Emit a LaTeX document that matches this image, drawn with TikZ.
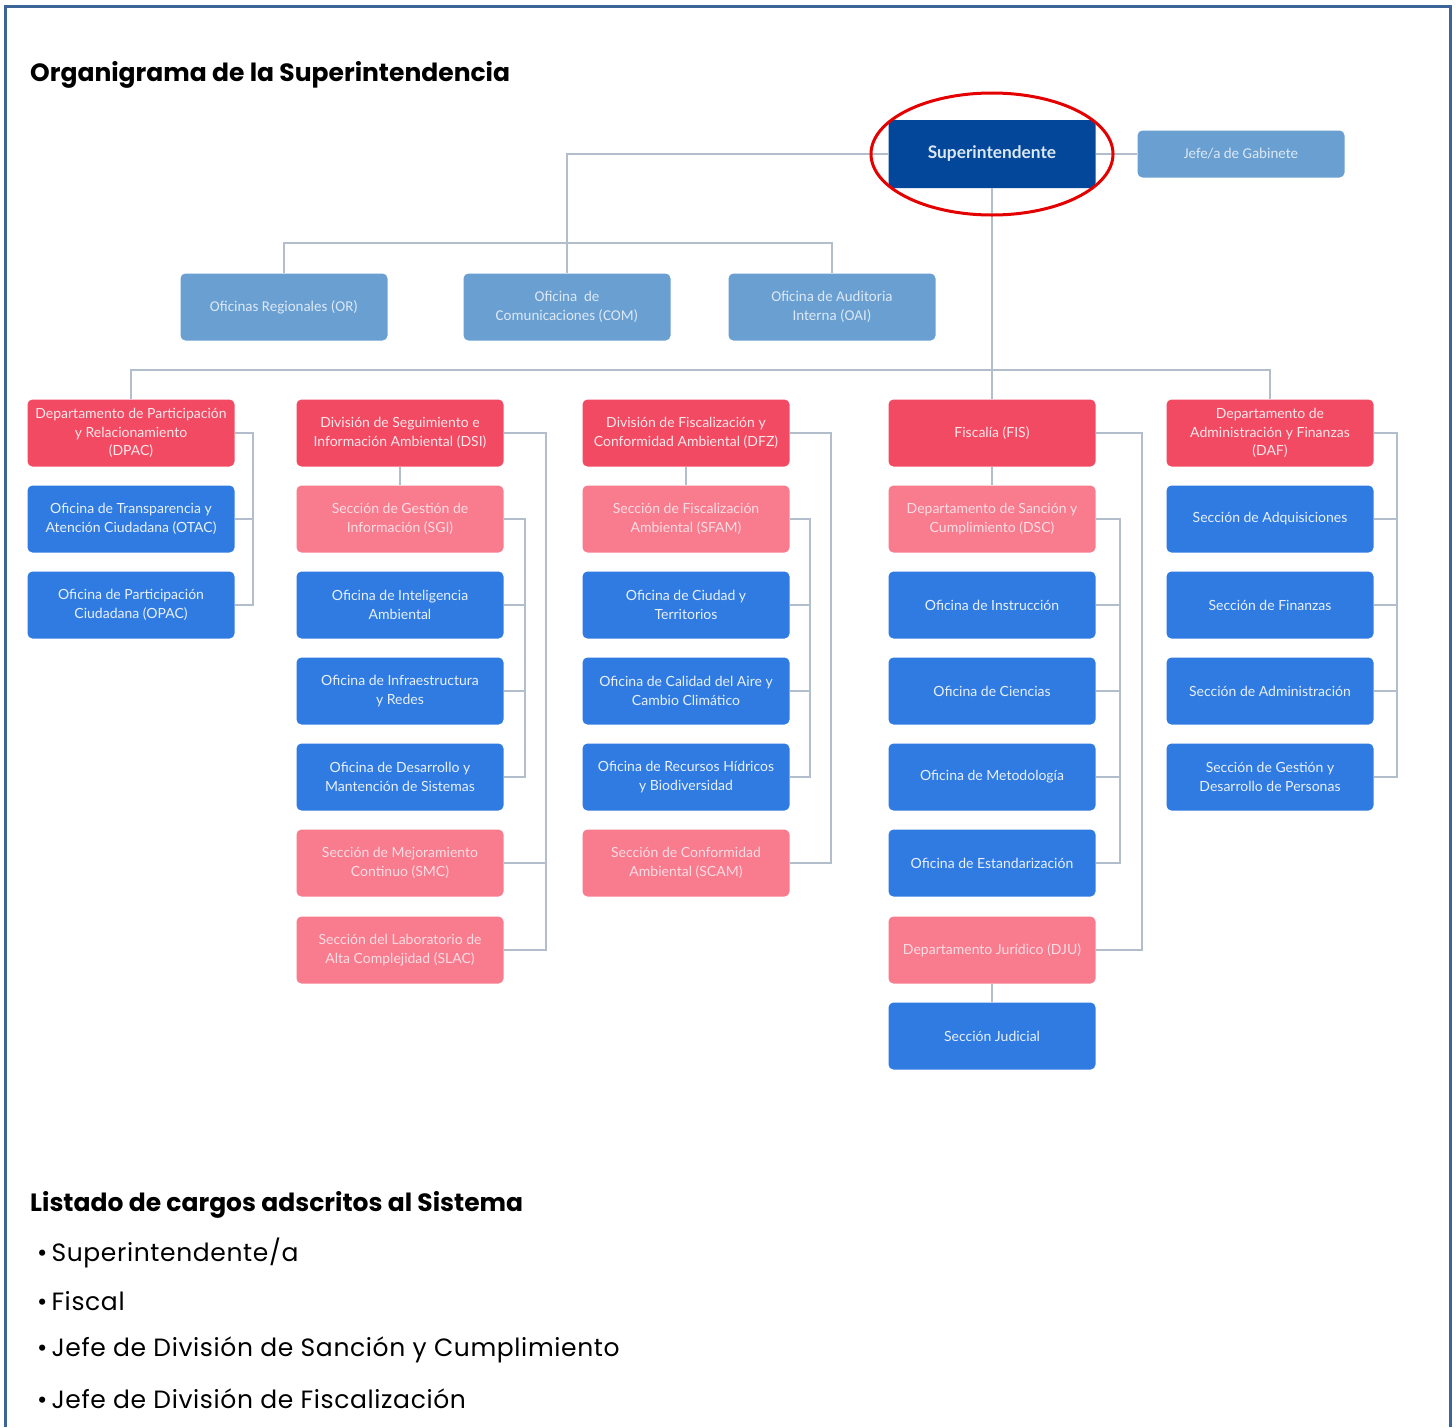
\documentclass[tikz,border=0pt]{standalone}
\usepackage{fontspec}
\setmainfont{Lato}
\newfontfamily\boxfont{Lato}
\newfontfamily\topfont{Carlito}
\newfontfamily\headfont{Poppins}
\newfontfamily\listfont[LetterSpace=2.5]{Poppins}
\usetikzlibrary{positioning}
\definecolor{cRed}{HTML}{F24A62}
\definecolor{cPink}{HTML}{F87B8E}
\definecolor{cBlue}{HTML}{2F7BE2}
\definecolor{cLight}{HTML}{6A9FD2}
\definecolor{cDark}{HTML}{02479A}
\definecolor{cLine}{HTML}{B3BECC}
\definecolor{cFrame}{HTML}{3B6499}
\definecolor{tRed}{HTML}{FDE6EA}
\definecolor{tPink}{HTML}{FDDDE3}
\definecolor{tBlue}{HTML}{E8F0FB}
\definecolor{tLight}{HTML}{DCE8F5}
\begin{document}
\begin{tikzpicture}[x=1pt,y=-1pt,
  box/.style={rectangle, rounded corners=5pt, minimum width=207pt, minimum height=67pt, inner sep=0pt, align=center, font=\boxfont\fontsize{14}{18.5}\selectfont},
  redbox/.style={box, fill=cRed, text=tRed},
  pinkbox/.style={box, fill=cPink, text=tPink},
  bluebox/.style={box, fill=cBlue, text=tBlue},
  lightbox/.style={box, fill=cLight, text=tLight, font=\topfont\fontsize{15}{19}\selectfont},
  supbox/.style={box, fill=cDark, text=tLight, minimum height=68pt, font=\boxfont\bfseries\fontsize{17.3}{20}\selectfont},
  conn/.style={draw=cLine, line width=1.6pt},
  heading/.style={anchor=west, inner sep=0pt, font=\headfont\bfseries\fontsize{25}{29}\selectfont},
  item/.style={anchor=west, inner sep=0pt, font=\listfont\fontsize{25}{29}\selectfont}]
\useasboundingbox (0,0) rectangle (1456,1427);
% frame
\draw[cFrame, line width=3pt] (5,1427) -- (5,6) -- (1450,6) -- (1450,1427);
% headings
\node[heading] (h1) at (30,75) {Organigrama de la Superintendencia};
\node[heading] (h2) at (30,1205) {Listado de cargos adscritos al Sistema};
\node[item] (l1) at (37,1253) {\textbullet\hspace{4pt}Superintendente/a};
\node[item] (l2) at (37,1301) {\textbullet\hspace{4pt}Fiscal};
\node[item] (l3) at (37,1350) {\textbullet\hspace{4pt}Jefe de División de Sanción y Cumplimiento};
\node[item] (l4) at (37,1399) {\textbullet\hspace{4pt}Jefe de División de Fiscalización};
% top
\node[supbox] (sup) at (992,154) {Superintendente};
\node[lightbox, minimum height=47pt] (jefe) at (1241,154) {Jefe/a de Gabinete};
\node[lightbox] (or) at (284,307) {Oficinas Regionales (OR)};
\node[lightbox] (com) at (567,307) {Oficina\ \ de\\Comunicaciones (COM)};
\node[lightbox] (oai) at (832,307) {Oficina de Auditoria\\Interna (OAI)};
% column 1
\node[redbox] (dpac) at (131,433) {Departamento de Participación\\y Relacionamiento\\(DPAC)};
\node[bluebox] (otac) at (131,519) {Oficina de Transparencia y\\Atención Ciudadana (OTAC)};
\node[bluebox] (opac) at (131,605) {Oficina de Participación\\Ciudadana (OPAC)};
% column 2
\node[redbox] (dsi) at (400,433) {División de Seguimiento e\\Información Ambiental (DSI)};
\node[pinkbox] (sgi) at (400,519) {Sección de Gestión de\\Información (SGI)};
\node[bluebox] (oia) at (400,605) {Oficina de Inteligencia\\Ambiental};
\node[bluebox] (oir) at (400,691) {Oficina de Infraestructura\\y Redes};
\node[bluebox] (dms) at (400,777) {Oficina de Desarrollo y\\Mantención de Sistemas};
\node[pinkbox] (smc) at (400,863) {Sección de Mejoramiento\\Continuo (SMC)};
\node[pinkbox] (slac) at (400,950) {Sección del Laboratorio de\\Alta Complejidad (SLAC)};
% column 3
\node[redbox] (dfz) at (686,433) {División de Fiscalización y\\Conformidad Ambiental (DFZ)};
\node[pinkbox] (sfam) at (686,519) {Sección de Fiscalización\\Ambiental (SFAM)};
\node[bluebox] (oct) at (686,605) {Oficina de Ciudad y\\Territorios};
\node[bluebox] (oca) at (686,691) {Oficina de Calidad del Aire y\\Cambio Climático};
\node[bluebox] (orh) at (686,777) {Oficina de Recursos Hídricos\\y Biodiversidad};
\node[pinkbox] (scam) at (686,863) {Sección de Conformidad\\Ambiental (SCAM)};
% column 4
\node[redbox] (fis) at (992,433) {Fiscalía (FIS)};
\node[pinkbox] (dsc) at (992,519) {Departamento de Sanción y\\Cumplimiento (DSC)};
\node[bluebox] (oin) at (992,605) {Oficina de Instrucción};
\node[bluebox] (oci) at (992,691) {Oficina de Ciencias};
\node[bluebox] (ome) at (992,777) {Oficina de Metodología};
\node[bluebox] (oes) at (992,863) {Oficina de Estandarización};
\node[pinkbox] (dju) at (992,950) {Departamento Jurídico (DJU)};
\node[bluebox] (sju) at (992,1036) {Sección Judicial};
% column 5
\node[redbox] (daf) at (1270,433) {Departamento de\\Administración y Finanzas\\(DAF)};
\node[bluebox] (sad) at (1270,519) {Sección de Adquisiciones};
\node[bluebox] (sfi) at (1270,605) {Sección de Finanzas};
\node[bluebox] (sam) at (1270,691) {Sección de Administración};
\node[bluebox] (sgd) at (1270,777) {Sección de Gestión y\\Desarrollo de Personas};
% connectors
\coordinate (bar1) at (567,243);
\coordinate (bar2) at (992,370);
\draw[conn] (sup.west) -| (com.north);
\draw[conn] (or.north) |- (bar1) -| (oai.north);
\draw[conn] (sup.east) -- (jefe.west);
\draw[conn] (sup.south) -- (fis.north);
\draw[conn] (dpac.north) |- (bar2) -| (daf.north);
% col 1
\draw[conn] (dpac.east) -- ++(18,0) |- (opac.east);
\draw[conn] (otac.east) -- ++(18,0);
% col 2
\draw[conn] (dsi) -- (sgi);
\draw[conn] (dsi.east) -- ++(42,0) |- (slac.east);
\draw[conn] (smc.east) -- ++(42,0);
\draw[conn] (sgi.east) -- ++(21,0) |- (dms.east);
\draw[conn] (oia.east) -- ++(21,0);
\draw[conn] (oir.east) -- ++(21,0);
% col 3
\draw[conn] (dfz) -- (sfam);
\draw[conn] (dfz.east) -- ++(41,0) |- (scam.east);
\draw[conn] (sfam.east) -- ++(20,0) |- (orh.east);
\draw[conn] (oct.east) -- ++(20,0);
\draw[conn] (oca.east) -- ++(20,0);
% col 4
\draw[conn] (fis) -- (dsc);
\draw[conn] (fis.east) -- ++(46,0) |- (dju.east);
\draw[conn] (dsc.east) -- ++(24,0) |- (oes.east);
\draw[conn] (oin.east) -- ++(24,0);
\draw[conn] (oci.east) -- ++(24,0);
\draw[conn] (ome.east) -- ++(24,0);
\draw[conn] (dju) -- (sju);
% col 5
\draw[conn] (daf.east) -- ++(23,0) |- (sgd.east);
\draw[conn] (sad.east) -- ++(23,0);
\draw[conn] (sfi.east) -- ++(23,0);
\draw[conn] (sam.east) -- ++(23,0);
% red ellipse
\draw[red!90!black, line width=3pt] (sup.center) ellipse [x radius=121, y radius=61];
\end{tikzpicture}
\end{document}
